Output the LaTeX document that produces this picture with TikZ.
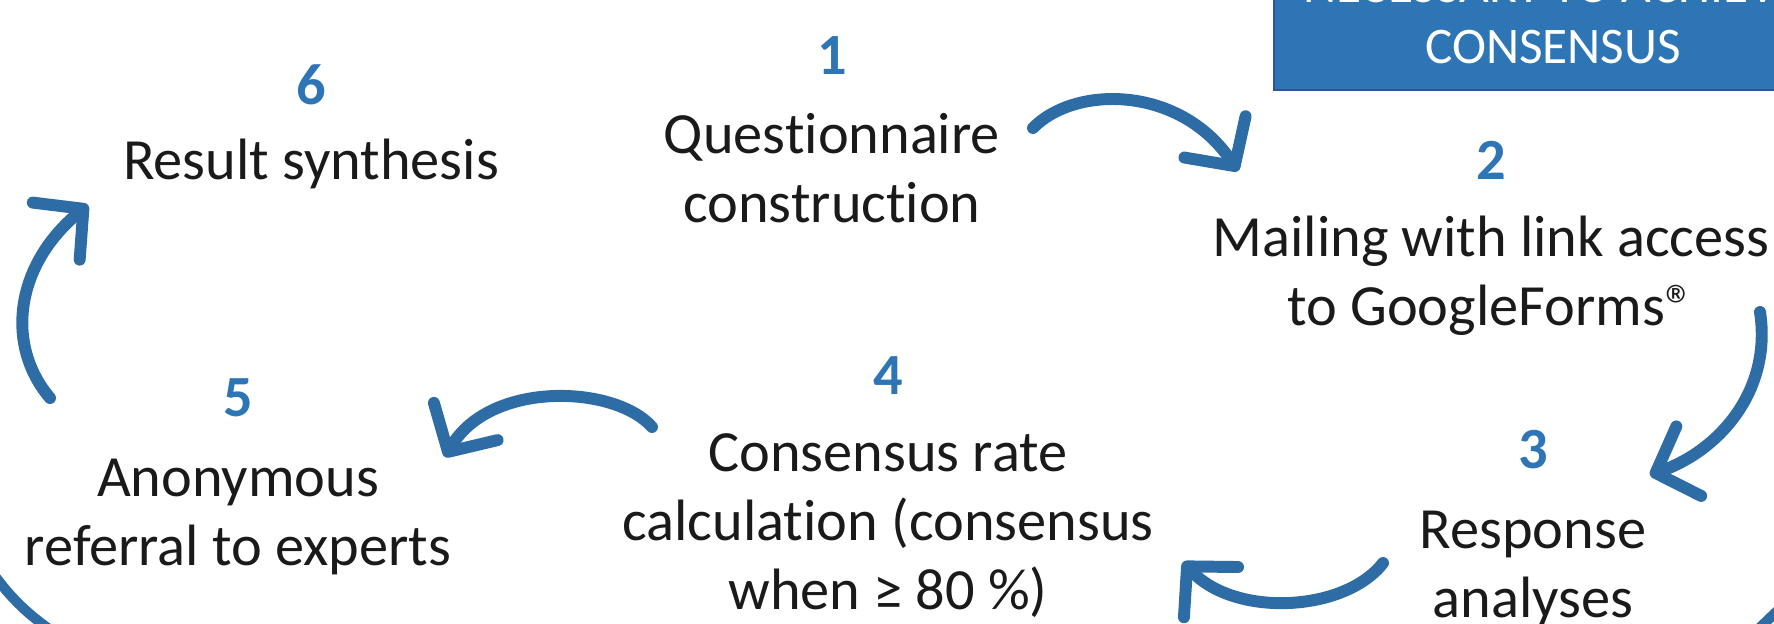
\documentclass[tikz,border=0pt]{standalone}
\usepackage{fontspec}
\setmainfont{Carlito}[Ligatures=NoCommon]
\usetikzlibrary{arrows.meta,positioning}
\definecolor{stepblue}{HTML}{2E75B6}
\definecolor{arrblue}{HTML}{2E6CA5}
\definecolor{boxedge}{HTML}{2F5597}
\definecolor{txtdark}{HTML}{1A1A1A}
\tikzset{
  stepnum/.style={anchor=base, inner sep=0pt, font=\fontsize{16.6}{19.6}\selectfont\bfseries, text=stepblue},
  steptxt/.style={anchor=base, inner sep=0pt, align=center, font=\fontsize{16.6}{19.6}\selectfont, text=txtdark},
  titlebox/.style={rectangle, draw=boxedge, fill=stepblue, line width=0.6pt, inner sep=0pt},
  titletxt/.style={anchor=base, inner sep=0pt, font=\fontsize{14.6}{16}\selectfont, text=white},
  cyclearr/.style={line width=3.4pt, draw=arrblue, line cap=round,
                   -{Straight Barb[length=10pt, width=21pt, line cap=round, line join=round]}},
  rim/.style={line width=2.9pt, draw=arrblue},
}
\begin{document}
\begin{tikzpicture}[x=0.1mm, y=-0.1mm]
\useasboundingbox (0,0) rectangle (1774,623);
\clip (0,0) rectangle (1774,623);
% title box (cut by the frame)
\node[titlebox, anchor=north west, minimum width=52mm, minimum height=10mm] (title) at (1273,-11) {};
\node[titletxt] (title1) at (1553,3) {NECESSARY TO ACHIEVE};
\node[titletxt] (title2) at (1553,63) {CONSENSUS};
% steps (text nodes sit on the baseline of their last line)
\node[stepnum] (n1) at (832,75) {1};
\node[steptxt] (s1) at (832,222) {Questionnaire\\construction};
\node[stepnum] (n2) at (1491,179) {2};
\node[steptxt] (s2) at (1491,325) {Mailing with link access\\to GoogleForms®};
\node[stepnum] (n3) at (1533,468) {3};
\node[steptxt] (s3) at (1533,617) {Response\\analyses};
\node[stepnum] (n4) at (888,394) {4};
\node[steptxt] (s4) at (888,609) {Consensus rate\\calculation (consensus\\when ≥ 80 \%)};
\node[stepnum] (n5) at (238,416) {5};
\node[steptxt] (s5) at (238,565) {Anonymous\\referral to experts};
\node[stepnum] (n6) at (311,105) {6};
\node[steptxt] (s6) at (311,179) {Result synthesis};
% arrow ends
\coordinate (a12s) at (1033,128);
\coordinate (a12e) at (1238,171);
\coordinate (a23s) at (1760,312);
\coordinate (a23e) at (1650,475);
\coordinate (a34s) at (1383,563);
\coordinate (a34e) at (1183,562);
\coordinate (a45s) at (652,427);
\coordinate (a45e) at (445,457);
\coordinate (a56s) at (50,398);
\coordinate (a56e) at (88,205);
\draw[cyclearr] (a12s) .. controls (1075,85) and (1180,85) .. (a12e);
\draw[cyclearr] (a23s) .. controls (1772,390) and (1720,450) .. (a23e);
\draw[cyclearr] (a34s) .. controls (1345,612) and (1235,618) .. (a34e);
\draw[cyclearr] (a45s) .. controls (615,385) and (490,380) .. (a45e);
\draw[cyclearr] (a56s) .. controls (5,345) and (15,265) .. (a56e);
% outer ring, cut by the frame
\coordinate (rimL) at (-12,566);
\coordinate (rimR) at (1745,642);
\draw[rim] (rimL) .. controls (8,596) and (30,618) .. (66,640);
\draw[rim] (rimR) .. controls (1760,628) and (1775,612) .. (1790,600);
\end{tikzpicture}
\end{document}
